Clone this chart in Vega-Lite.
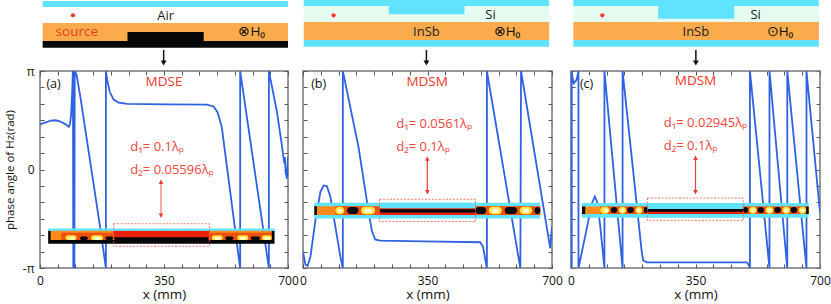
{
"$schema":"https://vega.github.io/schema/vega-lite/v6.json",
"padding":{"left":3,"top":0,"right":0,"bottom":0},
"background":"white",
"bounds":"flush",
"columns":3,
"spacing":{"row":0,"column":15},
"config":{"view":{"stroke":null},"axis":{"labelFont":"Open Sans","titleFont":"Open Sans","labelColor":"#111","titleColor":"#111","titleFontWeight":"normal","labelFontSize":12,"titleFontSize":13.5,"tickColor":"#555","tickSize":-4,"domain":false,"grid":false,"labelOverlap":false,"labelFlush":false},"text":{"font":"Open Sans"}},
"datasets":{
"lineA":[{"x":0,"y":1.44},{"x":16,"y":1.5},{"x":30,"y":1.56},{"x":44,"y":1.57},{"x":58,"y":1.53},{"x":72,"y":1.44},{"x":81,"y":1.36},{"x":85,"y":1.46},{"x":88,"y":1.78},{"x":91,"y":2.52},{"x":93,"y":3.21},{"x":94,"y":-3.15},{"x":97,"y":-3.15},{"x":98,"y":3.14},{"x":103,"y":3.03},{"x":114,"y":2.31},{"x":171,"y":-1.93},{"x":186,"y":-3.15},{"x":186,"y":3.14},{"x":190,"y":2.84},{"x":197,"y":2.47},{"x":208,"y":2.23},{"x":222,"y":2.13},{"x":246,"y":2.09},{"x":358,"y":2.08},{"x":471,"y":2.07},{"x":490,"y":2.01},{"x":501,"y":1.83},{"x":513,"y":1.36},{"x":565,"y":-3.15},{"x":565,"y":3.14},{"x":646,"y":-3.15},{"x":646,"y":3.14},{"x":668,"y":1.89},{"x":682,"y":0.83},{"x":687,"y":0.4},{"x":690,"y":0.19},{"x":691,"y":0.4},{"x":694,"y":-0.13},{"x":697,"y":-0.29},{"x":700,"y":0.4}],
"lineB":[{"x":0,"y":-2.62},{"x":7,"y":-3.04},{"x":13,"y":-3.07},{"x":21,"y":-2.78},{"x":35,"y":-1.61},{"x":49,"y":-0.71},{"x":58,"y":-0.51},{"x":67,"y":-0.53},{"x":77,"y":-0.87},{"x":91,"y":-1.82},{"x":105,"y":-2.78},{"x":112,"y":-3.15},{"x":112,"y":3.14},{"x":156,"y":0.72},{"x":185,"y":-1.4},{"x":194,"y":-1.98},{"x":203,"y":-2.23},{"x":217,"y":-2.27},{"x":339,"y":-2.29},{"x":498,"y":-2.32},{"x":506,"y":-2.46},{"x":517,"y":-3.15},{"x":517,"y":3.14},{"x":611,"y":-3.15},{"x":613,"y":3.14},{"x":695,"y":-2.51},{"x":700,"y":-1.82}],
"lineC":[{"x":2,"y":-3.15},{"x":2,"y":3.14},{"x":5,"y":2.87},{"x":8,"y":2.75},{"x":16,"y":2.87},{"x":21,"y":3.14},{"x":21,"y":-3.15},{"x":44,"y":-1.9},{"x":58,"y":-1.1},{"x":67,"y":-0.86},{"x":74,"y":-1.05},{"x":82,"y":-1.79},{"x":94,"y":-3.15},{"x":94,"y":3.14},{"x":145,"y":-3.15},{"x":145,"y":3.14},{"x":199,"y":-2.64},{"x":203,"y":-2.9},{"x":213,"y":-2.96},{"x":344,"y":-2.96},{"x":494,"y":-2.96},{"x":501,"y":-3.06},{"x":503,"y":-3.15},{"x":503,"y":3.14},{"x":558,"y":-3.15},{"x":558,"y":3.14},{"x":608,"y":-3.15},{"x":608,"y":3.14},{"x":662,"y":-3.15},{"x":662,"y":3.14},{"x":700,"y":-1.37}],
"insetA":[{"x":23,"x2":662,"y":-1.95,"y2":-2.37,"m":"black"},{"x":30,"x2":654,"y":-1.95,"y2":-2.25,"m":"orange"},{"x":60,"x2":208,"y":-2.02,"y2":-2.25,"m":"deep"},{"x":478,"x2":654,"y":-2.02,"y2":-2.25,"m":"deep"},{"x":208,"x2":478,"y":-1.95,"y2":-2.2,"m":"red"},{"x":210,"x2":476,"y":-2.16,"y2":-2.33,"m":"black"},{"x":23,"x2":662,"y":-1.88,"y2":-1.95,"m":"cyan"}],
"spotsA":[{"x":72,"x2":103,"y":-2.1,"y2":-2.25,"m":"yellow"},{"x":82,"x2":98,"y":-2.15,"y2":-2.24,"m":"white"},{"x":113,"x2":135,"y":-2.14,"y2":-2.25,"m":"black"},{"x":144,"x2":178,"y":-2.1,"y2":-2.25,"m":"yellow"},{"x":152,"x2":172,"y":-2.15,"y2":-2.24,"m":"white"},{"x":185,"x2":206,"y":-2.14,"y2":-2.25,"m":"black"},{"x":485,"x2":516,"y":-2.1,"y2":-2.25,"m":"yellow"},{"x":492,"x2":510,"y":-2.15,"y2":-2.24,"m":"white"},{"x":523,"x2":546,"y":-2.14,"y2":-2.25,"m":"black"},{"x":557,"x2":588,"y":-2.1,"y2":-2.25,"m":"yellow"},{"x":564,"x2":582,"y":-2.15,"y2":-2.24,"m":"white"},{"x":595,"x2":621,"y":-2.14,"y2":-2.25,"m":"black"},{"x":626,"x2":654,"y":-2.1,"y2":-2.25,"m":"yellow"},{"x":633,"x2":650,"y":-2.15,"y2":-2.24,"m":"white"}],
"insetB":[{"x":32,"x2":667,"y":-1.06,"y2":-1.56,"m":"cyan"},{"x":32,"x2":667,"y":-1.17,"y2":-1.45,"m":"orange"},{"x":91,"x2":667,"y":-1.17,"y2":-1.45,"m":"deep"},{"x":32,"x2":39,"y":-1.17,"y2":-1.45,"m":"black"},{"x":215,"x2":485,"y":-1.06,"y2":-1.24,"m":"cyan"},{"x":215,"x2":485,"y":-1.24,"y2":-1.45,"m":"red"},{"x":217,"x2":484,"y":-1.27,"y2":-1.37,"m":"black"}],
"spotsB":[{"x":91,"x2":116,"y":-1.19,"y2":-1.43,"m":"yellow"},{"x":97,"x2":110,"y":-1.25,"y2":-1.37,"m":"white"},{"x":124,"x2":156,"y":-1.2,"y2":-1.42,"m":"black"},{"x":163,"x2":203,"y":-1.19,"y2":-1.43,"m":"yellow"},{"x":171,"x2":195,"y":-1.25,"y2":-1.37,"m":"white"},{"x":484,"x2":515,"y":-1.2,"y2":-1.42,"m":"black"},{"x":522,"x2":559,"y":-1.19,"y2":-1.43,"m":"yellow"},{"x":530,"x2":551,"y":-1.25,"y2":-1.37,"m":"white"},{"x":567,"x2":602,"y":-1.2,"y2":-1.42,"m":"black"},{"x":609,"x2":644,"y":-1.19,"y2":-1.43,"m":"yellow"},{"x":617,"x2":636,"y":-1.25,"y2":-1.37,"m":"white"},{"x":651,"x2":667,"y":-1.2,"y2":-1.42,"m":"black"}],
"insetC":[{"x":31,"x2":668,"y":-1.07,"y2":-1.54,"m":"cyan"},{"x":31,"x2":668,"y":-1.18,"y2":-1.42,"m":"orange"},{"x":82,"x2":668,"y":-1.18,"y2":-1.42,"m":"deep"},{"x":31,"x2":40,"y":-1.18,"y2":-1.42,"m":"black"},{"x":661,"x2":668,"y":-1.18,"y2":-1.42,"m":"black"},{"x":215,"x2":484,"y":-1.07,"y2":-1.26,"m":"cyan"},{"x":215,"x2":484,"y":-1.26,"y2":-1.42,"m":"red"},{"x":215,"x2":484,"y":-1.26,"y2":-1.35,"m":"black"}],
"spotsC":[{"x":82,"x2":108,"y":-1.19,"y2":-1.41,"m":"yellow"},{"x":92,"x2":105,"y":-1.24,"y2":-1.36,"m":"white"},{"x":112,"x2":130,"y":-1.2,"y2":-1.39,"m":"black"},{"x":134,"x2":155,"y":-1.19,"y2":-1.41,"m":"yellow"},{"x":139,"x2":150,"y":-1.24,"y2":-1.36,"m":"white"},{"x":158,"x2":177,"y":-1.2,"y2":-1.39,"m":"black"},{"x":181,"x2":201,"y":-1.19,"y2":-1.41,"m":"yellow"},{"x":186,"x2":196,"y":-1.24,"y2":-1.36,"m":"white"},{"x":205,"x2":215,"y":-1.2,"y2":-1.39,"m":"black"},{"x":484,"x2":498,"y":-1.2,"y2":-1.39,"m":"black"},{"x":501,"x2":522,"y":-1.19,"y2":-1.41,"m":"yellow"},{"x":506,"x2":517,"y":-1.24,"y2":-1.36,"m":"white"},{"x":524,"x2":543,"y":-1.2,"y2":-1.39,"m":"black"},{"x":547,"x2":569,"y":-1.19,"y2":-1.41,"m":"yellow"},{"x":552,"x2":564,"y":-1.24,"y2":-1.36,"m":"white"},{"x":571,"x2":590,"y":-1.2,"y2":-1.39,"m":"black"},{"x":594,"x2":616,"y":-1.19,"y2":-1.41,"m":"yellow"},{"x":599,"x2":611,"y":-1.24,"y2":-1.36,"m":"white"},{"x":617,"x2":636,"y":-1.2,"y2":-1.39,"m":"black"},{"x":640,"x2":661,"y":-1.19,"y2":-1.41,"m":"yellow"},{"x":645,"x2":656,"y":-1.24,"y2":-1.36,"m":"white"}],
"schemA":[{"x":7.5,"x2":700,"y":1,"y2":7,"m":"cyan"},{"x":7.5,"x2":700,"y":23,"y2":41,"m":"sand"},{"x":7.5,"x2":700,"y":41,"y2":47.7,"m":"black"},{"x":247,"x2":462,"y":32,"y2":41,"m":"black"}],
"schemB":[{"x":2,"x2":692,"y":6,"y2":22,"m":"pale"},{"x":2,"x2":692,"y":0,"y2":6,"m":"cyan"},{"x":241,"x2":454,"y":6,"y2":14.3,"m":"cyan"},{"x":2,"x2":692,"y":22,"y2":40,"m":"sand"},{"x":2,"x2":692,"y":40,"y2":46.7,"m":"cyan"}],
"schemC":[{"x":6.5,"x2":697,"y":6,"y2":22,"m":"pale"},{"x":6.5,"x2":697,"y":0,"y2":6,"m":"cyan"},{"x":245,"x2":459,"y":6,"y2":18.7,"m":"cyan"},{"x":6.5,"x2":697,"y":22,"y2":40,"m":"sand"},{"x":6.5,"x2":697,"y":40,"y2":46.7,"m":"cyan"}]
},
"concat":[
{"width":248,"height":71,"encoding":{"x":{"field":"x","type":"quantitative","scale":{"domain":[0,700]},"axis":null},"y":{"field":"y","type":"quantitative","scale":{"domain":[0,71],"reverse":true},"axis":null}},
"layer":[
{"data":{"name":"schemA"},"mark":"rect","encoding":{"x2":{"field":"x2"},"y2":{"field":"y2"},"color":{"field":"m","type":"nominal","legend":null,"scale":{"domain":["cyan","sand","pale","orange","deep","red","black","yellow","white"],"range":["#5fe3ff","#fbab4b","#e6fbef","#ff8a1c","#f0500f","#e8200c","#050708","#ffe63c","#fffbe0"]}}}},
{"data":{"values":[{"x":93,"y":15.3}]},"mark":{"type":"circle","size":18,"color":"#f03a30","opacity":1}},
{"data":{"values":[{"x":355,"y":15.7,"t":"Air"}]},"mark":{"type":"text","fontSize":13,"color":"#222","align":"center","baseline":"middle"},"encoding":{"text":{"field":"t"}}},
{"data":{"values":[{"x":44,"y":32,"t":"source"}]},"mark":{"type":"text","fontSize":13.5,"color":"#f03a20","align":"left","baseline":"middle"},"encoding":{"text":{"field":"t"}}},
{"data":{"values":[{"x":560,"y":32,"t":"⊗H₀"}]},"mark":{"type":"text","fontSize":13.5,"color":"#111","align":"left","baseline":"middle"},"encoding":{"text":{"field":"t"}}},
{"data":{"values":[{"x":349,"y":50,"y2":63}]},"mark":{"type":"rule","color":"#111","strokeWidth":1.5},"encoding":{"y2":{"field":"y2"}}},
{"data":{"values":[{"x":349,"y":63}]},"mark":{"type":"point","shape":"triangle-down","size":35,"filled":true,"color":"#111","opacity":1}}
]},
{"width":249,"height":71,"encoding":{"x":{"field":"x","type":"quantitative","scale":{"domain":[0,700]},"axis":null},"y":{"field":"y","type":"quantitative","scale":{"domain":[0,71],"reverse":true},"axis":null}},
"layer":[
{"data":{"name":"schemB"},"mark":"rect","encoding":{"x2":{"field":"x2"},"y2":{"field":"y2"},"color":{"field":"m","type":"nominal","legend":null,"scale":{"domain":["cyan","sand","pale","orange","deep","red","black","yellow","white"],"range":["#5fe3ff","#fbab4b","#e6fbef","#ff8a1c","#f0500f","#e8200c","#050708","#ffe63c","#fffbe0"]}}}},
{"data":{"values":[{"x":86,"y":15.3}]},"mark":{"type":"circle","size":18,"color":"#f03a30","opacity":1}},
{"data":{"values":[{"x":527,"y":15,"t":"Si"},{"x":347,"y":31.7,"t":"InSb"}]},"mark":{"type":"text","fontSize":13,"color":"#222","align":"center","baseline":"middle"},"encoding":{"text":{"field":"t"}}},
{"data":{"values":[{"x":536,"y":32,"t":"⊗H₀"}]},"mark":{"type":"text","fontSize":13.5,"color":"#111","align":"left","baseline":"middle"},"encoding":{"text":{"field":"t"}}},
{"data":{"values":[{"x":347,"y":50,"y2":63}]},"mark":{"type":"rule","color":"#111","strokeWidth":1.5},"encoding":{"y2":{"field":"y2"}}},
{"data":{"values":[{"x":347,"y":63}]},"mark":{"type":"point","shape":"triangle-down","size":35,"filled":true,"color":"#111","opacity":1}}
]},
{"width":253,"height":71,"encoding":{"x":{"field":"x","type":"quantitative","scale":{"domain":[0,700],"range":[4,253]},"axis":null},"y":{"field":"y","type":"quantitative","scale":{"domain":[0,71],"reverse":true},"axis":null}},
"layer":[
{"data":{"name":"schemC"},"mark":"rect","encoding":{"x2":{"field":"x2"},"y2":{"field":"y2"},"color":{"field":"m","type":"nominal","legend":null,"scale":{"domain":["cyan","sand","pale","orange","deep","red","black","yellow","white"],"range":["#5fe3ff","#fbab4b","#e6fbef","#ff8a1c","#f0500f","#e8200c","#050708","#ffe63c","#fffbe0"]}}}},
{"data":{"values":[{"x":88,"y":15.3}]},"mark":{"type":"circle","size":18,"color":"#f03a30","opacity":1}},
{"data":{"values":[{"x":519,"y":15,"t":"Si"},{"x":351,"y":31.7,"t":"InSb"}]},"mark":{"type":"text","fontSize":13,"color":"#222","align":"center","baseline":"middle"},"encoding":{"text":{"field":"t"}}},
{"data":{"values":[{"x":550,"y":32,"t":"⊙H₀"}]},"mark":{"type":"text","fontSize":13.5,"color":"#111","align":"left","baseline":"middle"},"encoding":{"text":{"field":"t"}}},
{"data":{"values":[{"x":351,"y":50,"y2":63}]},"mark":{"type":"rule","color":"#111","strokeWidth":1.5},"encoding":{"y2":{"field":"y2"}}},
{"data":{"values":[{"x":351,"y":63}]},"mark":{"type":"point","shape":"triangle-down","size":35,"filled":true,"color":"#111","opacity":1}}
]},
{"width":248,"height":197,"view":{"stroke":"#777","strokeWidth":1.5},"resolve":{"axis":{"x":"independent","y":"independent"}},
"encoding":{"x":{"field":"x","type":"quantitative","scale":{"domain":[0,700],"nice":false},"axis":null},"y":{"field":"y","type":"quantitative","scale":{"domain":[-3.1416,3.1416],"nice":false},"axis":null}},
"layer":[
{"data":{"name":"lineA"},"transform":[{"window":[{"op":"row_number","as":"r"}]}],"mark":{"type":"line","clip":true,"color":"#2f62e0","strokeWidth":1.8},"encoding":{"order":{"field":"r","type":"quantitative"},
"x":{"field":"x","type":"quantitative","title":"x (mm)","axis":{"values":[0,50,100,150,200,250,300,350,400,450,500,550,600,650,700],"labelExpr":"datum.value==0||datum.value==350||datum.value==700?datum.label:''","labelPadding":11.5,"titlePadding":0.5,"orient":"bottom"}},
"y":{"field":"y","type":"quantitative","title":"phase angle of Hz(rad)","axis":{"values":[-3.1416,-2.618,-2.094,-1.571,-1.047,-0.524,0,0.524,1.047,1.571,2.094,2.618,3.1416],"labelExpr":"datum.value>3?'π':datum.value<-3?'-π':datum.value==0?'0':''","labelPadding":10,"titlePadding":7,"titleFontSize":11.5,"orient":"left"}}}},
{"data":{"values":[{"x":0,"y":0}]},"mark":{"type":"point","opacity":0},"encoding":{
"x":{"field":"x","type":"quantitative","axis":{"orient":"top","labels":false,"title":null,"values":[0,50,100,150,200,250,300,350,400,450,500,550,600,650,700]}},
"y":{"field":"y","type":"quantitative","axis":{"orient":"right","labels":false,"title":null,"values":[-3.1416,-2.618,-2.094,-1.571,-1.047,-0.524,0,0.524,1.047,1.571,2.094,2.618,3.1416]}}}},
{"data":{"name":"insetA"},"mark":"rect","encoding":{"x2":{"field":"x2"},"y2":{"field":"y2"},"color":{"field":"m","type":"nominal","legend":null,"scale":{"domain":["cyan","sand","pale","orange","deep","red","black","yellow","white"],"range":["#5fe3ff","#fbab4b","#e6fbef","#ff8a1c","#f0500f","#e8200c","#050708","#ffe63c","#fffbe0"]}}}},
{"data":{"name":"spotsA"},"mark":{"type":"rect","cornerRadius":3},"encoding":{"x2":{"field":"x2"},"y2":{"field":"y2"},"color":{"field":"m","type":"nominal","legend":null,"scale":{"domain":["cyan","sand","pale","orange","deep","red","black","yellow","white"],"range":["#5fe3ff","#fbab4b","#e6fbef","#ff8a1c","#f0500f","#e8200c","#050708","#ffe63c","#fffbe0"]}}}},
{"data":{"values":[{"x":208,"x2":478,"y":-1.73,"y2":-2.45}]},"mark":{"type":"rect","fill":null,"stroke":"#f0584a","strokeWidth":0.8,"strokeDash":[2,1.5]},"encoding":{"x2":{"field":"x2"},"y2":{"field":"y2"}}},
{"data":{"values":[{"x":341.5,"y":-0.34,"y2":-1.53}]},"mark":{"type":"rule","color":"#f09088","strokeWidth":1.5},"encoding":{"y2":{"field":"y2"}}},
{"data":{"values":[{"x":341.5,"y":-0.4,"s":"up"},{"x":341.5,"y":-1.47,"s":"down"}]},"mark":{"type":"point","filled":true,"size":22,"color":"#f03a30","opacity":1},"encoding":{"shape":{"field":"s","type":"nominal","legend":null,"scale":{"domain":["up","down"],"range":["triangle-up","triangle-down"]}}}},
{"data":{"values":[{"x":255,"y":0.72,"t":"d₁= 0.1λₚ"},{"x":255,"y":0,"t":"d₂= 0.05596λₚ"}]},"mark":{"type":"text","fontSize":13,"color":"#f0453a","align":"left","baseline":"middle"},"encoding":{"text":{"field":"t"}}},
{"data":{"values":[{"x":350,"y":2.79,"t":"MDSE"}]},"mark":{"type":"text","fontSize":13.5,"color":"#f0352a","align":"center","baseline":"middle"},"encoding":{"text":{"field":"t"}}},
{"data":{"values":[{"x":18,"y":2.73,"t":"(a)"}]},"mark":{"type":"text","fontSize":12.5,"color":"#111","align":"left","baseline":"middle"},"encoding":{"text":{"field":"t"}}}
]},
{"width":249,"height":197,"view":{"stroke":"#777","strokeWidth":1.5},"resolve":{"axis":{"x":"independent","y":"independent"}},
"encoding":{"x":{"field":"x","type":"quantitative","scale":{"domain":[0,700],"nice":false},"axis":null},"y":{"field":"y","type":"quantitative","scale":{"domain":[-3.1416,3.1416],"nice":false},"axis":null}},
"layer":[
{"data":{"name":"lineB"},"transform":[{"window":[{"op":"row_number","as":"r"}]}],"mark":{"type":"line","clip":true,"color":"#2f62e0","strokeWidth":1.8},"encoding":{"order":{"field":"r","type":"quantitative"},
"x":{"field":"x","type":"quantitative","title":"x (mm)","axis":{"values":[0,50,100,150,200,250,300,350,400,450,500,550,600,650,700],"labelExpr":"datum.value==0||datum.value==350||datum.value==700?datum.label:''","labelPadding":11.5,"titlePadding":0.5,"orient":"bottom"}},
"y":{"field":"y","type":"quantitative","axis":{"labels":false,"title":null,"orient":"left","values":[-3.1416,-2.618,-2.094,-1.571,-1.047,-0.524,0,0.524,1.047,1.571,2.094,2.618,3.1416]}}}},
{"data":{"values":[{"x":0,"y":0}]},"mark":{"type":"point","opacity":0},"encoding":{
"x":{"field":"x","type":"quantitative","axis":{"orient":"top","labels":false,"title":null,"values":[0,50,100,150,200,250,300,350,400,450,500,550,600,650,700]}},
"y":{"field":"y","type":"quantitative","axis":{"orient":"right","labels":false,"title":null,"values":[-3.1416,-2.618,-2.094,-1.571,-1.047,-0.524,0,0.524,1.047,1.571,2.094,2.618,3.1416]}}}},
{"data":{"name":"insetB"},"mark":"rect","encoding":{"x2":{"field":"x2"},"y2":{"field":"y2"},"color":{"field":"m","type":"nominal","legend":null,"scale":{"domain":["cyan","sand","pale","orange","deep","red","black","yellow","white"],"range":["#5fe3ff","#fbab4b","#e6fbef","#ff8a1c","#f0500f","#e8200c","#050708","#ffe63c","#fffbe0"]}}}},
{"data":{"name":"spotsB"},"mark":{"type":"rect","cornerRadius":4},"encoding":{"x2":{"field":"x2"},"y2":{"field":"y2"},"color":{"field":"m","type":"nominal","legend":null,"scale":{"domain":["cyan","sand","pale","orange","deep","red","black","yellow","white"],"range":["#5fe3ff","#fbab4b","#e6fbef","#ff8a1c","#f0500f","#e8200c","#050708","#ffe63c","#fffbe0"]}}}},
{"data":{"values":[{"x":215,"x2":485,"y":-0.95,"y2":-1.66}]},"mark":{"type":"rect","fill":null,"stroke":"#f0584a","strokeWidth":0.8,"strokeDash":[2,1.5]},"encoding":{"x2":{"field":"x2"},"y2":{"field":"y2"}}},
{"data":{"values":[{"x":349.5,"y":0.4,"y2":-0.78}]},"mark":{"type":"rule","color":"#e8403a","strokeWidth":1.2},"encoding":{"y2":{"field":"y2"}}},
{"data":{"values":[{"x":349.5,"y":0.34,"s":"up"},{"x":349.5,"y":-0.72,"s":"down"}]},"mark":{"type":"point","filled":true,"size":22,"color":"#f03a30","opacity":1},"encoding":{"shape":{"field":"s","type":"nominal","legend":null,"scale":{"domain":["up","down"],"range":["triangle-up","triangle-down"]}}}},
{"data":{"values":[{"x":262,"y":1.44,"t":"d₁= 0.0561λₚ"},{"x":262,"y":0.72,"t":"d₂= 0.1λₚ"}]},"mark":{"type":"text","fontSize":13,"color":"#f0453a","align":"left","baseline":"middle"},"encoding":{"text":{"field":"t"}}},
{"data":{"values":[{"x":349,"y":2.79,"t":"MDSM"}]},"mark":{"type":"text","fontSize":13.5,"color":"#f0352a","align":"center","baseline":"middle"},"encoding":{"text":{"field":"t"}}},
{"data":{"values":[{"x":23,"y":2.73,"t":"(b)"}]},"mark":{"type":"text","fontSize":12.5,"color":"#111","align":"left","baseline":"middle"},"encoding":{"text":{"field":"t"}}}
]},
{"width":253,"height":197,"resolve":{"axis":{"x":"independent","y":"independent"}},
"encoding":{"x":{"field":"x","type":"quantitative","scale":{"domain":[0,700],"nice":false,"range":[4,253]},"axis":null},"y":{"field":"y","type":"quantitative","scale":{"domain":[-3.1416,3.1416],"nice":false},"axis":null}},
"layer":[
{"data":{"values":[{"x":0,"x2":700,"y":-3.1416,"y2":3.1416}]},"mark":{"type":"rect","fill":null,"stroke":"#777","strokeWidth":1.5},"encoding":{"x2":{"field":"x2"},"y2":{"field":"y2"}}},
{"data":{"name":"lineC"},"transform":[{"window":[{"op":"row_number","as":"r"}]}],"mark":{"type":"line","clip":true,"color":"#2f62e0","strokeWidth":1.8},"encoding":{"order":{"field":"r","type":"quantitative"},
"x":{"field":"x","type":"quantitative","title":"x (mm)","axis":{"values":[0,50,100,150,200,250,300,350,400,450,500,550,600,650,700],"labelExpr":"datum.value==0||datum.value==350||datum.value==700?datum.label:''","labelPadding":11.5,"titlePadding":0.5,"orient":"bottom"}},
"y":{"field":"y","type":"quantitative","axis":{"labels":false,"title":null,"orient":"left","offset":-4,"values":[-3.1416,-2.618,-2.094,-1.571,-1.047,-0.524,0,0.524,1.047,1.571,2.094,2.618,3.1416]}}}},
{"data":{"values":[{"x":0,"y":0}]},"mark":{"type":"point","opacity":0},"encoding":{
"x":{"field":"x","type":"quantitative","axis":{"orient":"top","labels":false,"title":null,"values":[0,50,100,150,200,250,300,350,400,450,500,550,600,650,700]}},
"y":{"field":"y","type":"quantitative","axis":{"orient":"right","labels":false,"title":null,"values":[-3.1416,-2.618,-2.094,-1.571,-1.047,-0.524,0,0.524,1.047,1.571,2.094,2.618,3.1416]}}}},
{"data":{"name":"insetC"},"mark":"rect","encoding":{"x2":{"field":"x2"},"y2":{"field":"y2"},"color":{"field":"m","type":"nominal","legend":null,"scale":{"domain":["cyan","sand","pale","orange","deep","red","black","yellow","white"],"range":["#5fe3ff","#fbab4b","#e6fbef","#ff8a1c","#f0500f","#e8200c","#050708","#ffe63c","#fffbe0"]}}}},
{"data":{"name":"spotsC"},"mark":{"type":"rect","cornerRadius":4},"encoding":{"x2":{"field":"x2"},"y2":{"field":"y2"},"color":{"field":"m","type":"nominal","legend":null,"scale":{"domain":["cyan","sand","pale","orange","deep","red","black","yellow","white"],"range":["#5fe3ff","#fbab4b","#e6fbef","#ff8a1c","#f0500f","#e8200c","#050708","#ffe63c","#fffbe0"]}}}},
{"data":{"values":[{"x":215,"x2":484,"y":-0.91,"y2":-1.63}]},"mark":{"type":"rect","fill":null,"stroke":"#f0584a","strokeWidth":0.8,"strokeDash":[2,1.5]},"encoding":{"x2":{"field":"x2"},"y2":{"field":"y2"}}},
{"data":{"values":[{"x":350,"y":0.43,"y2":-0.78}]},"mark":{"type":"rule","color":"#e8403a","strokeWidth":1.2},"encoding":{"y2":{"field":"y2"}}},
{"data":{"values":[{"x":350,"y":0.37,"s":"up"},{"x":350,"y":-0.72,"s":"down"}]},"mark":{"type":"point","filled":true,"size":22,"color":"#f03a30","opacity":1},"encoding":{"shape":{"field":"s","type":"nominal","legend":null,"scale":{"domain":["up","down"],"range":["triangle-up","triangle-down"]}}}},
{"data":{"values":[{"x":261,"y":1.47,"t":"d₁= 0.02945λₚ"},{"x":261,"y":0.75,"t":"d₂= 0.1λₚ"}]},"mark":{"type":"text","fontSize":13,"color":"#f0453a","align":"left","baseline":"middle"},"encoding":{"text":{"field":"t"}}},
{"data":{"values":[{"x":350,"y":2.82,"t":"MDSM"}]},"mark":{"type":"text","fontSize":13.5,"color":"#f0352a","align":"center","baseline":"middle"},"encoding":{"text":{"field":"t"}}},
{"data":{"values":[{"x":25,"y":2.73,"t":"(c)"}]},"mark":{"type":"text","fontSize":12.5,"color":"#111","align":"left","baseline":"middle"},"encoding":{"text":{"field":"t"}}}
]}
]
}
